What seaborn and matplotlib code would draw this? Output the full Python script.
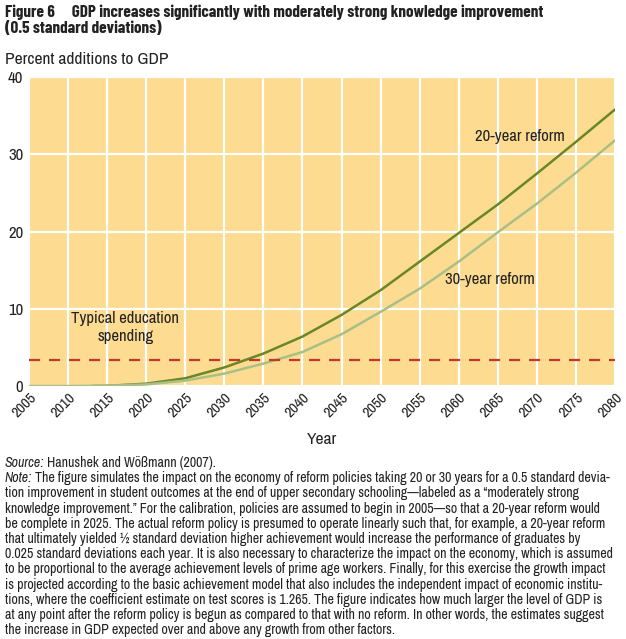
import matplotlib
matplotlib.use("Agg")
import matplotlib.pyplot as plt
import seaborn as sns
import pandas as pd

years = [2005, 2010, 2013, 2015, 2020, 2025, 2030, 2035, 2040, 2045, 2050, 2055, 2060, 2065, 2070, 2075, 2080]
reform20 = [None, None, 0.0, 0.02, 0.3, 1.0, 2.4, 4.2, 6.4, 9.2, 12.4, 16.1, 19.8, 23.5, 27.5, 31.6, 35.8]
reform30 = [0.0, 0.0, 0.02, 0.05, 0.2, 0.7, 1.6, 2.9, 4.4, 6.7, 9.6, 12.6, 16.1, 19.9, 23.6, 27.6, 31.8]
education_spending = 3.4
xticks = list(range(2005, 2081, 5))
yticks = [0, 10, 20, 30, 40]

sns.set_theme(style="white")
FONT = ["Archivo Narrow", "Liberation Sans", "DejaVu Sans"]
TITLE_FONT = ["Barlow Condensed", "Archivo Narrow", "DejaVu Sans"]
plt.rcParams["font.family"] = FONT

df = pd.DataFrame({"Year": years, "20-year reform": reform20, "30-year reform": reform30})
long = df.melt(id_vars="Year", var_name="Reform", value_name="Value").dropna()

fig = plt.figure(figsize=(6.26, 6.39), dpi=100)
ax = fig.add_axes([29/626, 1-386/639, (615-29)/626, (386-77)/639])
ax.set_facecolor("#FDDC92")

sns.lineplot(data=long, x="Year", y="Value", hue="Reform",
             palette={"20-year reform": "#6A8726", "30-year reform": "#A9BF86"},
             linewidth=1.8, ax=ax, legend=False)
ax.axhline(education_spending, color="#C0392B", linestyle=(0, (5, 4)), linewidth=1.6)

ax.set_xlim(2005, 2080)
ax.set_ylim(0, 40)
ax.set_xticks(xticks)
ax.set_yticks(yticks)
ax.set_xticklabels([str(y) for y in xticks], rotation=45, ha="right", va="top",
                   rotation_mode="anchor", fontsize=11, color="#222222")
ax.set_yticklabels([str(y) for y in yticks], fontsize=12, color="#222222")
ax.tick_params(axis="both", length=0, pad=4)
ax.tick_params(axis="x", pad=3)
ax.grid(True, color="white", linewidth=1.6)
ax.set_axisbelow(True)
for s in ax.spines.values():
    s.set_visible(False)
ax.set_xlabel("Year", fontsize=12.5, color="#222222", labelpad=9)
ax.set_ylabel("")

ax.text(2017.3, 7.6, "Typical education\nspending", ha="center", va="center",
        fontsize=12, color="#222222", linespacing=1.25)
ax.text(2067.8, 32.3, "20-year reform", ha="center", va="center", fontsize=12, color="#222222")
ax.text(2064.0, 13.8, "30-year reform", ha="center", va="center", fontsize=12, color="#222222")

fig.text(5/626, 1-20.5/639, "Figure 6     GDP increases significantly with moderately strong knowledge improvement\n(0.5 standard deviations)",
         ha="left", va="center", fontsize=12.3, fontweight="bold", color="#222222", linespacing=1.05,
         family=TITLE_FONT)
fig.text(5/626, 1-60/639, "Percent additions to GDP", ha="left", va="center", fontsize=12.5, color="#222222")

note_lines = [
    "The figure simulates the impact on the economy of reform policies taking 20 or 30 years for a 0.5 standard devia-",
    "tion improvement in student outcomes at the end of upper secondary schooling\u2014labeled as a \u201cmoderately strong",
    "knowledge improvement.\u201d For the calibration, policies are assumed to begin in 2005\u2014so that a 20-year reform would",
    "be complete in 2025. The actual reform policy is presumed to operate linearly such that, for example, a 20-year reform",
    "that ultimately yielded \u00bd standard deviation higher achievement would increase the performance of graduates by",
    "0.025 standard deviations each year. It is also necessary to characterize the impact on the economy, which is assumed",
    "to be proportional to the average achievement levels of prime age workers. Finally, for this exercise the growth impact",
    "is projected according to the basic achievement model that also includes the independent impact of economic institu-",
    "tions, where the coefficient estimate on test scores is 1.265. The figure indicates how much larger the level of GDP is",
    "at any point after the reform policy is begun as compared to that with no reform. In other words, the estimates suggest",
    "the increase in GDP expected over and above any growth from other factors.",
]
fs = 10.05
x0 = 5/626
y0 = 463
step = 15.2
fig.canvas.draw()
renderer = fig.canvas.get_renderer()

def with_italic(ypix, ital, rest):
    t = fig.text(x0, 1-ypix/639, ital, ha="left", va="center", fontsize=fs, style="italic", color="#222222")
    bb = t.get_window_extent(renderer=renderer)
    fig.text(bb.x1/fig.bbox.width + 3/626, 1-ypix/639, rest, ha="left", va="center", fontsize=fs, color="#222222")

with_italic(y0, "Source:", "Hanushek and W\u00f6\u00dfmann (2007).")
with_italic(y0+step, "Note:", note_lines[0])
for i, line in enumerate(note_lines[1:], start=2):
    fig.text(x0, 1-(y0+step*i)/639, line, ha="left", va="center", fontsize=fs, color="#222222")

fig.savefig("out.png", dpi=100)
